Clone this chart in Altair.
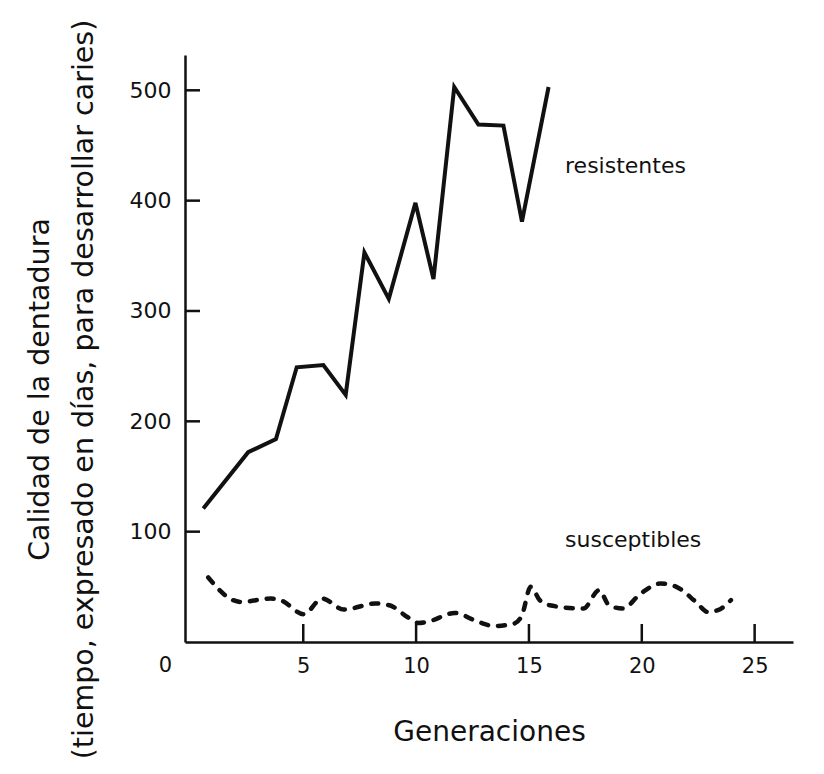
import altair as alt
import pandas as pd

# ---- data ----
gen_res = [0.57, 2.56, 3.79, 4.71, 5.89, 6.88, 7.71, 8.79, 9.97, 10.77, 11.69, 12.76, 13.87, 14.69, 15.87]
val_res = [121, 172, 184, 249, 251, 224, 353, 311, 398, 329, 503, 469, 468, 381, 503]

gen_sus = [0.79, 1.89, 2.24, 3.56, 4.0, 5.02, 5.84, 6.80, 8.20, 8.82, 9.61, 10.10, 10.48, 11.71,
           12.76, 13.46, 14.34, 14.69, 15.08, 15.48, 15.92, 17.41, 18.11, 18.55, 19.16, 19.95,
           20.83, 21.53, 22.40, 22.93, 23.37, 23.95]
val_sus = [58.5, 37.9, 36.3, 39.4, 37.9, 25.2, 39.4, 29.4, 34.9, 33.3, 22.7, 17.3, 18.2, 26.3,
           18.2, 14.5, 16.7, 24.3, 50.0, 37.9, 33.3, 30.3, 47.0, 33.3, 30.3, 43.9,
           53.0, 50.0, 36.3, 27.2, 28.8, 37.9]

x_ticks = [5, 10, 15, 20, 25]
y_ticks = [100, 200, 300, 400, 500]

series_names = ["resistentes", "susceptibles"]
name_gen = [16.6, 16.6]
name_val = [431, 92]

origin_label = ["0"]

x_title = "Generaciones"
y_title = ["Calidad de la dentadura", "(tiempo, expresado en días, para desarrollar caries)"]

# ---- layout / style ----
W, H = 608, 587
FONT = "DejaVu Sans"
INK = "#111111"

df_res = pd.DataFrame({"x": gen_res, "y": val_res})
df_sus = pd.DataFrame({"x": gen_sus, "y": val_sus})
df_xt = pd.DataFrame({"x": x_ticks})
df_yt = pd.DataFrame({"y": y_ticks})
df_lab = pd.DataFrame({"x": name_gen, "y": name_val, "t": series_names})
df_zero = pd.DataFrame({"x": [0], "y": [0], "t": origin_label})

xscale = alt.Scale(domain=[-0.24, 26.7], nice=False, zero=False)
yscale = alt.Scale(domain=[0, 532], nice=False, zero=False)

xaxis = alt.Axis(
    title=x_title, values=x_ticks, ticks=False, tickSize=0, grid=False,
    domainColor=INK, domainWidth=2.5,
    labelFont=FONT, labelFontSize=21, labelColor=INK,
    labelBaseline="alphabetic", labelPadding=30,
    titleFont=FONT, titleFontSize=28, titleFontWeight="normal", titleColor=INK,
    titleBaseline="alphabetic", titleY=98,
)
yaxis = alt.Axis(
    title=y_title, values=y_ticks, ticks=False, tickSize=0, grid=False,
    domainColor=INK, domainWidth=2.5,
    labelFont=FONT, labelFontSize=22, labelColor=INK, labelPadding=14,
    titleFont=FONT, titleFontSize=28.5, titleFontWeight="normal", titleColor=INK,
    titleAngle=270, titleAlign="center", titleBaseline="top",
    titleX=-160, titleY=334, titleLineHeight=44,
)

def X(field="x"):
    return alt.X(f"{field}:Q", scale=xscale, axis=xaxis)

def Y(field="y"):
    return alt.Y(f"{field}:Q", scale=yscale, axis=yaxis)

res_line = alt.Chart(df_res).mark_line(
    color=INK, strokeWidth=4, strokeJoin="miter", strokeCap="butt"
).encode(x=X(), y=Y())

sus_line = alt.Chart(df_sus).mark_line(
    color=INK, strokeWidth=4.5, strokeDash=[7, 10], strokeCap="round", interpolate="monotone"
).encode(x=X(), y=Y())

xt = alt.Chart(df_xt).mark_rule(color=INK, strokeWidth=2.5).encode(
    x=X(), y=alt.value(H), y2=alt.value(H - 18)
)
yt = alt.Chart(df_yt).mark_rule(color=INK, strokeWidth=2.5).encode(
    y=Y(), x=alt.value(0), x2=alt.value(15)
)

labels = alt.Chart(df_lab).mark_text(
    font=FONT, fontSize=22, color=INK, align="left", baseline="middle"
).encode(x=X(), y=Y(), text="t:N")

zero = alt.Chart(df_zero).mark_text(
    font=FONT, fontSize=21, color=INK, align="center", baseline="alphabetic", dx=-25, dy=30
).encode(x=X(), y=Y(), text="t:N")

chart = alt.layer(res_line, sus_line, xt, yt, labels, zero).properties(
    width=W, height=H,
    autosize=alt.AutoSizeParams(type="none"),
    padding={"left": 177, "top": 47, "right": 10, "bottom": 124},
    background="white",
).configure_view(stroke=None)

chart.save("out.html", embed_options={"renderer": "svg", "actions": False})
